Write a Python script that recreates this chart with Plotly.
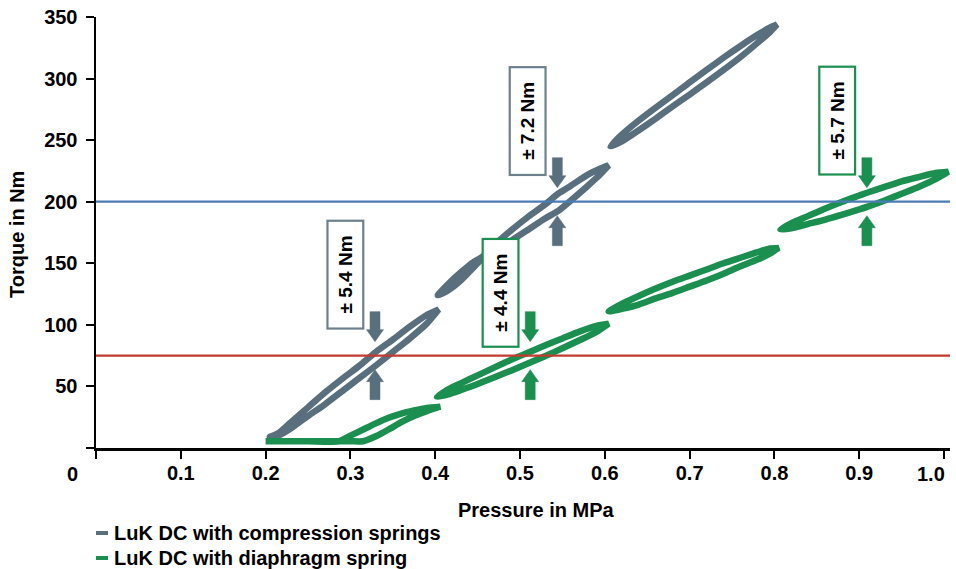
import plotly.graph_objects as go

# ---------------- data ----------------
SERIES_NAMES = ["LuK DC with compression springs", "LuK DC with diaphragm spring"]
SERIES_COLORS = ["#5a6f7e", "#1b8f4f"]

# compression-spring damper: three hysteresis loops (pressure MPa, torque Nm)
GRAY1_X = [0.205, 0.215, 0.23, 0.25, 0.27, 0.29, 0.31, 0.33, 0.35, 0.37, 0.39, 0.404]
GRAY1_UP = [9, 12, 21, 33, 45, 56, 66.5, 78, 88, 98.5, 108, 112.5]
GRAY1_LOW = [9, 10, 16, 26, 35.5, 46, 56.5, 67, 78, 89, 101, 112.5]

GRAY2_X = [0.403, 0.415, 0.43, 0.445, 0.455, 0.47, 0.49, 0.51, 0.53, 0.545, 0.56, 0.58, 0.595, 0.6045]
GRAY2_UP = [124, 133, 142.5, 151, 155, 165, 177, 188, 198, 206.5, 213, 222, 227, 229.5]
GRAY2_LOW = [124, 128, 136, 146.5, 153.5, 160, 168.5, 177.5, 186.5, 192.5, 201, 213, 222.5, 229.5]

GRAY3_X = [0.6065, 0.62, 0.64, 0.66, 0.68, 0.70, 0.72, 0.74, 0.76, 0.78, 0.795, 0.803]
GRAY3_UP = [245, 254.5, 266, 276.5, 286.5, 297, 307, 317, 326.5, 335.5, 341.5, 343.8]
GRAY3_LOW = [245, 249, 258, 267.5, 277.5, 287, 297, 307, 317.5, 329, 338, 343.8]

# diaphragm-spring damper: four hysteresis loops
GREEN1_X = [0.2, 0.25, 0.286, 0.30, 0.315, 0.33, 0.345, 0.36, 0.375, 0.39, 0.406]
GREEN1_UP = [5.5, 5.5, 5.5, 10, 15, 20, 24.5, 28, 30.5, 32.5, 33.5]
GREEN1_LOW = [5.5, 5.5, 5.5, 5.5, 5.5, 9.5, 15, 21, 26, 30, 33.5]

GREEN2_X = [0.402, 0.415, 0.43, 0.45, 0.47, 0.49, 0.512, 0.53, 0.55, 0.57, 0.59, 0.6045]
GREEN2_UP = [41.5, 47.5, 52.5, 59, 65.5, 71.8, 78.2, 83.5, 89, 94.5, 99.2, 101]
GREEN2_LOW = [41.5, 43.5, 47, 52, 57.5, 63, 69.4, 74.7, 81, 87.5, 94.2, 101]

GREEN3_X = [0.6045, 0.62, 0.64, 0.66, 0.68, 0.70, 0.72, 0.74, 0.76, 0.78, 0.795, 0.805]
GREEN3_UP = [111, 117, 123.5, 129.5, 135, 140, 145, 150, 154.5, 159, 162, 162.5]
GREEN3_LOW = [111, 113, 116.5, 121.5, 126, 131, 136, 141.5, 147.5, 153, 158, 162.5]

GREEN4_X = [0.807, 0.82, 0.84, 0.86, 0.88, 0.90, 0.91, 0.93, 0.95, 0.97, 0.99, 1.005]
GREEN4_UP = [177.4, 182.5, 188.5, 194.5, 200, 205, 207.5, 212, 216.5, 220, 223.3, 224.4]
GREEN4_LOW = [177.4, 178.5, 182, 185.5, 189.5, 193.7, 196, 201, 206.5, 212, 218.3, 224.4]

# reference torque levels
REF_LEVELS = [200, 75]
REF_COLORS = ["#4a7db5", "#c23b2e"]

# hysteresis labels
HYST_LABELS = ["± 5.4 Nm", "± 4.4 Nm", "± 7.2 Nm", "± 5.7 Nm"]
HYST_X = [0.329, 0.512, 0.544, 0.909]
HYST_REF = [75, 75, 200, 200]
HYST_SERIES = [0, 1, 0, 1]

X_TICKS = [0, 0.1, 0.2, 0.3, 0.4, 0.5, 0.6, 0.7, 0.8, 0.9, 1.0]
X_TICK_LABELS = ["0", "0.1", "0.2", "0.3", "0.4", "0.5", "0.6", "0.7", "0.8", "0.9", "1.0"]
Y_TICKS = [0, 50, 100, 150, 200, 250, 300, 350]
Y_TICK_LABELS = ["", "50", "100", "150", "200", "250", "300", "350"]

X_TITLE = "Pressure in MPa"
Y_TITLE = "Torque in Nm"

# ---------------- figure ----------------
FONT = "Liberation Sans, Arial, Helvetica, sans-serif"
FS = 20
W, H = 956, 569
ML, MR, MT, MB = 96, 6, 17, 121
PW, PH = W - ML - MR, H - MT - MB


def pxx(px):
    return (px - ML) / PW


def pxy(py):
    return (H - MB - py) / PH


def bold(size=FS):
    return dict(family=FONT, size=size, color="black", weight="bold")


fig = go.Figure()

loops = [
    (0, GRAY1_X, GRAY1_UP, GRAY1_LOW),
    (0, GRAY2_X, GRAY2_UP, GRAY2_LOW),
    (0, GRAY3_X, GRAY3_UP, GRAY3_LOW),
    (1, GREEN1_X, GREEN1_UP, GREEN1_LOW),
    (1, GREEN2_X, GREEN2_UP, GREEN2_LOW),
    (1, GREEN3_X, GREEN3_UP, GREEN3_LOW),
    (1, GREEN4_X, GREEN4_UP, GREEN4_LOW),
]
for s, xs, up, low in loops:
    fig.add_trace(go.Scatter(
        x=list(xs) + list(xs)[::-1],
        y=list(low) + list(up)[::-1],
        mode="lines",
        line=dict(color=SERIES_COLORS[s], width=6.5, shape="spline", smoothing=0.6),
        name=SERIES_NAMES[s],
        showlegend=False,
        hoverinfo="skip",
    ))

shapes = []
for lvl, col in zip(REF_LEVELS, REF_COLORS):
    shapes.append(dict(type="line", xref="paper", yref="y", x0=0, x1=1, y0=lvl, y1=lvl,
                       line=dict(color=col, width=2.2), layer="above"))

annotations = []
down_path = "M -5,44 L 5,44 L 5,26 L 8.5,26 L 0,14 L -8.5,26 L -5,26 Z"
up_path = "M -5,-44 L 5,-44 L 5,-26 L 8.5,-26 L 0,-14 L -8.5,-26 L -5,-26 Z"
for lab, cx, ref, s in zip(HYST_LABELS, HYST_X, HYST_REF, HYST_SERIES):
    col = SERIES_COLORS[s]
    for p in (down_path, up_path):
        shapes.append(dict(type="path", xref="x", yref="y", xsizemode="pixel", ysizemode="pixel",
                           xanchor=cx, yanchor=ref, path=p, fillcolor=col,
                           line=dict(color=col, width=0.5), layer="above"))
    lift = 63 if (s == 1 and ref == 75) else 81
    annotations.append(dict(
        x=cx, y=ref, xref="x", yref="y", xshift=-30, yshift=lift,
        text=lab, showarrow=False, textangle=-90,
        width=106, height=34, borderpad=0, borderwidth=2.2,
        bordercolor=col if s == 1 else "#6d808d", bgcolor="white",
        font=bold(19),
    ))

# endpoint x tick labels (0 sits at the corner, 1.0 pulled inside)
annotations.append(dict(x=pxx(72), y=pxy(474), xref="paper", yref="paper", text=X_TICK_LABELS[0],
                        showarrow=False, xanchor="center", yanchor="middle", font=bold()))
annotations.append(dict(x=pxx(931), y=pxy(474), xref="paper", yref="paper", text=X_TICK_LABELS[-1],
                        showarrow=False, xanchor="center", yanchor="middle", font=bold()))

# axis titles
annotations.append(dict(x=pxx(536), y=pxy(510), xref="paper", yref="paper", text=X_TITLE,
                        showarrow=False, xanchor="center", yanchor="middle", font=bold()))
annotations.append(dict(x=pxx(17), y=pxy(235), xref="paper", yref="paper", text=Y_TITLE,
                        showarrow=False, xanchor="center", yanchor="middle", textangle=-90,
                        font=bold()))

# legend (manual, short line keys)
for i, (name, col) in enumerate(zip(SERIES_NAMES, SERIES_COLORS)):
    ly = 533 + 25 * i
    shapes.append(dict(type="line", xref="paper", yref="paper",
                       x0=pxx(96), x1=pxx(108), y0=pxy(ly), y1=pxy(ly),
                       line=dict(color=col, width=4)))
    annotations.append(dict(x=pxx(112), y=pxy(ly), xref="paper", yref="paper", text=name,
                            showarrow=False, xanchor="left", yanchor="middle", font=bold()))

fig.update_layout(
    width=W, height=H,
    margin=dict(l=ML, r=MR, t=MT, b=MB, pad=0, autoexpand=False),
    plot_bgcolor="white", paper_bgcolor="white",
    showlegend=False,
    font=dict(family=FONT, size=FS, color="black"),
    shapes=shapes,
    annotations=annotations,
    xaxis=dict(
        range=[0, 1.007], showgrid=False, zeroline=False, automargin=False,
        showline=True, linecolor="black", linewidth=2.5,
        ticks="outside", ticklen=8, tickwidth=2, tickcolor="black",
        tickvals=X_TICKS, ticktext=[""] + X_TICK_LABELS[1:-1] + [""],
        tickfont=bold(), ticklabelstandoff=-3,
    ),
    yaxis=dict(
        range=[0, 350], showgrid=False, zeroline=False, automargin=False,
        showline=True, linecolor="black", linewidth=2.5,
        ticks="outside", ticklen=8, tickwidth=2, tickcolor="black",
        tickvals=Y_TICKS, ticktext=Y_TICK_LABELS,
        tickfont=bold(), ticklabelstandoff=4,
    ),
)

fig.write_html(
    "out.html",
    config={"displayModeBar": False, "staticPlot": True},
    post_script="document.body.style.margin='0';document.body.style.overflow='hidden';",
)
